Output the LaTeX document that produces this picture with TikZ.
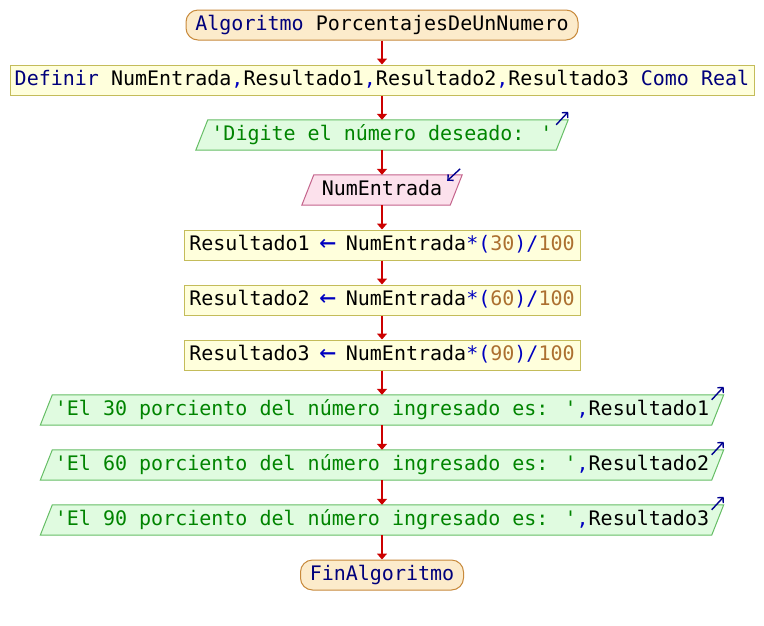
\documentclass[tikz,border=0pt]{standalone}
\usepackage{fontspec}
\usepackage{graphicx}
\newfontfamily\codefont{DejaVu Sans Mono}
\usetikzlibrary{arrows.meta,backgrounds,calc}

\definecolor{termfill}{HTML}{FCEBCB}
\definecolor{termline}{HTML}{C88A3C}
\definecolor{procfill}{HTML}{FFFFDC}
\definecolor{procline}{HTML}{C4BC5A}
\definecolor{outfill}{HTML}{E0FBE0}
\definecolor{outline}{HTML}{66BE66}
\definecolor{infill}{HTML}{FCE1EC}
\definecolor{inline}{HTML}{C4648C}
\definecolor{flowred}{HTML}{CC0000}
\definecolor{kwcol}{HTML}{00007C}
\definecolor{strcol}{HTML}{008400}
\definecolor{numcol}{HTML}{AC7030}
\definecolor{opcol}{HTML}{0000C0}
\definecolor{indcol}{HTML}{000090}

% syntax colouring helpers
\newcommand\kwd[1]{\textcolor{kwcol}{#1}}
\newcommand\strg[1]{\textcolor{strcol}{#1}}
\newcommand\numb[1]{\textcolor{numcol}{#1}}
\newcommand\opr[1]{\textcolor{opcol}{#1}}
% assignment arrow, one character cell wide
\newcommand\assignarrow{\opr{\makebox[12pt]{\raisebox{-1.5pt}{\scalebox{1.4}{←}}}}}

\begin{document}
\begin{tikzpicture}[x=1pt,y=-1pt,
  every node/.style={font=\codefont\fontsize{20}{24}\selectfont, inner sep=0pt,
    minimum height=30pt, text height=14pt, text depth=4pt},
  term/.style={draw=termline, fill=termfill, line width=1pt, rounded corners=12pt},
  proc/.style={draw=procline, fill=procfill, line width=1pt},
  iobox/.style={},
  outshape/.style={draw=outline, fill=outfill, line width=1pt},
  inshape/.style={draw=inline, fill=infill, line width=1pt},
  flow/.style={draw=flowred, line width=1.4pt, -{Triangle[length=6pt,width=10pt]}},
  ind/.style={draw=indcol, line width=1.4pt, -{Straight Barb[length=4pt,width=8pt]}}
]
\useasboundingbox (0,0) rectangle (764,625);

\node[term, minimum width=392pt] (start) at (382,25) {\kwd{Algoritmo} PorcentajesDeUnNumero};
\node[proc, minimum width=744pt] (def) at (382,80)
  {\kwd{Definir} NumEntrada\opr{,}Resultado1\opr{,}Resultado2\opr{,}Resultado3 \kwd{Como Real}};
\node[iobox, minimum width=360pt] (dig) at (382,135) {\strg{'Digite el número deseado: '}};
\node[iobox, minimum width=148pt] (num) at (382,190) {NumEntrada};
\node[proc, minimum width=396pt] (a1) at (382,245)
  {Resultado1 \assignarrow{} NumEntrada\opr{*(}\numb{30}\opr{)/}\numb{100}};
\node[proc, minimum width=396pt] (a2) at (382,300)
  {Resultado2 \assignarrow{} NumEntrada\opr{*(}\numb{60}\opr{)/}\numb{100}};
\node[proc, minimum width=396pt] (a3) at (382,355)
  {Resultado3 \assignarrow{} NumEntrada\opr{*(}\numb{90}\opr{)/}\numb{100}};
\node[iobox, minimum width=671pt] (o1) at (382,410)
  {\strg{'El 30 porciento del número ingresado es: '}\opr{,}Resultado1};
\node[iobox, minimum width=671pt] (o2) at (382,465)
  {\strg{'El 60 porciento del número ingresado es: '}\opr{,}Resultado2};
\node[iobox, minimum width=671pt] (o3) at (382,520)
  {\strg{'El 90 porciento del número ingresado es: '}\opr{,}Resultado3};
\node[term, minimum width=163pt] (fin) at (382,575) {\kwd{FinAlgoritmo}};

% page fill and slanted input/output boxes behind their texts
\begin{scope}[on background layer]
  \fill[white] (0,0) rectangle (764,625);
  \foreach \n in {dig,o1,o2,o3}
    \path[outshape] ($(\n.north west)+(6,0)$) -- ($(\n.north east)+(6,0)$)
      -- ($(\n.south east)+(-6,0)$) -- ($(\n.south west)+(-6,0)$) -- cycle;
  \path[inshape] ($(num.north west)+(6,0)$) -- ($(num.north east)+(6,0)$)
    -- ($(num.south east)+(-6,0)$) -- ($(num.south west)+(-6,0)$) -- cycle;
\end{scope}

% output / input markers
\foreach \n in {dig,o1,o2,o3}
  \draw[ind] ($(\n.north east)+(-6,5)$) -- ($(\n.north east)+(6,-8)$);
\draw[ind] ($(num.north east)+(4,-6)$) -- ($(num.north east)+(-9,6)$);

% flow connectors
\foreach \a/\b in {start/def,def/dig,dig/num,num/a1,a1/a2,a2/a3,a3/o1,o1/o2,o2/o3,o3/fin}
  \draw[flow] (\a.south) -- (\b.north);
\end{tikzpicture}
\end{document}
